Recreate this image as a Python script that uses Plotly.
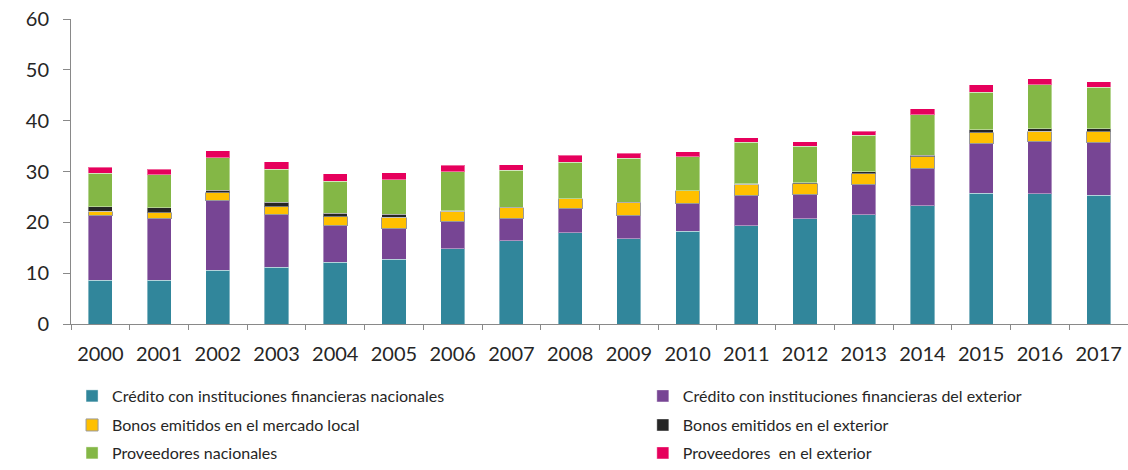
import plotly.graph_objects as go

years = [str(y) for y in range(2000, 2018)]

credito_nac = [8.6, 8.6, 10.6, 11.2, 12.1, 12.7, 14.85, 16.35, 17.95, 16.8, 18.2, 19.3, 20.7, 21.5, 23.3, 25.7, 25.6, 25.3]
credito_ext = [12.8, 12.2, 13.6, 10.3, 7.2, 6.1, 5.35, 4.5, 4.85, 4.6, 5.6, 6.05, 4.85, 5.9, 7.2, 9.85, 10.3, 10.4]
bonos_local = [0.75, 1.1, 1.6, 1.6, 1.8, 2.2, 2.0, 2.0, 1.8, 2.5, 2.4, 2.15, 2.05, 2.2, 2.4, 2.1, 2.05, 2.1]
bonos_ext = [0.95, 1.0, 0.55, 0.9, 0.65, 0.6, 0.1, 0.1, 0.05, 0.05, 0.05, 0.05, 0.2, 0.35, 0.25, 0.6, 0.45, 0.6]
prov_nac = [6.6, 6.45, 6.4, 6.4, 6.35, 6.75, 7.7, 7.3, 7.2, 8.65, 6.7, 8.2, 7.15, 7.15, 8.05, 7.35, 8.65, 8.15]
prov_ext = [1.15, 1.1, 1.35, 1.5, 1.45, 1.45, 1.2, 1.05, 1.3, 1.0, 0.9, 0.9, 0.95, 0.85, 1.1, 1.45, 1.2, 1.1]

series = [
    ("Crédito con instituciones financieras nacionales", credito_nac, "#31869B", "rgba(255,255,255,0.4)"),
    ("Crédito con instituciones financieras del exterior", credito_ext, "#774594", "rgba(255,255,255,0.4)"),
    ("Bonos emitidos en el mercado local", bonos_local, "#FFC000", "#999999"),
    ("Bonos emitidos en el exterior", bonos_ext, "#262626", "rgba(255,255,255,0.4)"),
    ("Proveedores nacionales", prov_nac, "#84B746", "rgba(255,255,255,0.4)"),
    ("Proveedores  en el exterior", prov_ext, "#E6005C", "rgba(255,255,255,0.4)"),
]

legend_names = ["legend", "legend2", "legend3", "legend4", "legend5", "legend6"]

fig = go.Figure()
for (name, vals, color, lc), lg in zip(series, legend_names):
    fig.add_trace(go.Bar(
        x=years, y=vals, name=name, legend=lg,
        marker=dict(color=color, line=dict(color=lc, width=1)),
    ))

def leg(xl, yc):
    return dict(
        orientation="h",
        x=xl, xanchor="left",
        y=yc, yanchor="middle",
        itemwidth=30,
        font=dict(size=16, family="Lato", color="#262626"),
        bgcolor="rgba(0,0,0,0)",
    )

col_x = [0.001, 0.541]
row_y = [-0.232, -0.327, -0.425]
legend_layout = {}
for i, lg in enumerate(legend_names):
    legend_layout[lg] = leg(col_x[i % 2], row_y[i // 2])

fig.update_layout(
    barmode="stack",
    bargap=0.59,
    width=1128, height=470,
    margin=dict(l=71, r=0, t=19, b=145),
    plot_bgcolor="white", paper_bgcolor="white",
    font=dict(family="Lato", color="#262626"),
    showlegend=True,
    xaxis=dict(
        type="category",
        showline=True, linecolor="#898989", linewidth=1,
        ticks="outside", tickson="boundaries", ticklen=5, tickcolor="#898989",
        tickfont=dict(size=20, family="Lato", color="#262626"),
        ticklabelstandoff=12,
        showgrid=False,
    ),
    yaxis=dict(
        range=[0, 60], dtick=10,
        showline=True, linecolor="#898989", linewidth=1,
        ticks="outside", ticklen=7, tickcolor="#898989",
        tickfont=dict(size=20, family="Lato", color="#262626"),
        ticklabelstandoff=10,
        showgrid=False, zeroline=False,
    ),
    **legend_layout,
)

fig.write_html("out.html")
